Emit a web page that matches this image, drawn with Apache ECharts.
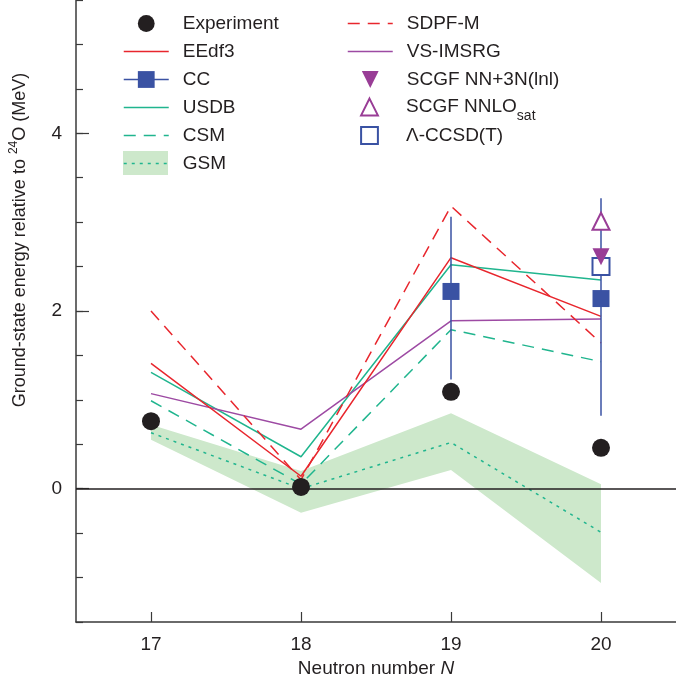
<!DOCTYPE html>
<html><head><meta charset="utf-8">
<script src="https://cdn.jsdelivr.net/npm/echarts@6/dist/echarts.min.js"></script>
<style>html,body{margin:0;padding:0;background:#fff}#c{width:676px;height:680px}</style>
</head><body><div id="c"></div>
<script>
// ---- data ----
const neutronNumbers = ['17', '18', '19', '20'];
const experiment  = [0.76, 0.02, 1.09, 0.46];
const eedf3       = [1.41, 0.14, 2.60, 1.94];
const usdb        = [1.31, 0.36, 2.52, 2.35];
const csm         = [0.99, 0.05, 1.79, 1.43];
const gsm         = [0.63, 0.00, 0.52, -0.49];
const gsmLow      = [0.55, -0.27, 0.21, -1.06];
const gsmHigh     = [0.72, 0.20, 0.85, 0.05];
const sdpfm       = [2.00, 0.10, 3.18, 1.64];
const vsImsrg     = [1.07, 0.67, 1.89, 1.91];
const cc          = [null, null, 2.22, 2.14];
const ccLow       = [null, null, 1.23, 0.82];
const ccHigh      = [null, null, 3.06, 3.27];
const scgfNN3N    = [null, null, null, 2.61];
const scgfNNLOsat = [null, null, null, 3.01];
const lambdaCCSDT = [null, null, null, 2.50];
const yTickLabels = [0, 2, 4];

// ---- styles ----
const FONT = "'Liberation Sans', Arial, sans-serif";
const TXT = '#231f20';
const AX = '#3a3a3a';
const RED = '#e8262d';
const TEAL = '#20b58e';
const PURPLE = '#9d4aa3';
const PURPLE2 = '#993d96';
const BLUE = '#3a52a3';
const BAND = '#cde8cb';

const chart = echarts.init(document.getElementById('c'), null, {renderer: 'canvas'});

function lineSeries(name, data, color, type, extra) {
  return Object.assign({
    name, type: 'line', data, symbol: 'none', color,
    lineStyle: {color, width: 1.5, type: type || 'solid'},
    z: 2, silent: true
  }, extra || {});
}

const errorBars = [];
neutronNumbers.forEach((n, i) => {
  if (ccLow[i] != null) {
    errorBars.push({
      type: 'line', data: [[n, ccLow[i]], [n, ccHigh[i]]], symbol: 'none',
      lineStyle: {color: BLUE, width: 1.5}, color: BLUE, z: 3, silent: true
    });
  }
});

const bandDiff = gsmHigh.map((h, i) => h - gsmLow[i]);

const legendText = {fontSize: 19, color: TXT, fontFamily: FONT, lineHeight: 21, padding: [0, 0, 0, 9]};
function legendBase(left, top) {
  return {left, top, padding: 0, orient: 'vertical', itemWidth: 45, itemHeight: 21, itemGap: 7,
    selectedMode: false, z: 4, textStyle: Object.assign({}, legendText)};
}

const option = {
  animation: false,
  textStyle: {fontFamily: FONT},
  grid: {show: false, left: 76, right: 0, top: 0, bottom: 58, containLabel: false, outerBoundsMode: 'none'},
  xAxis: {
    type: 'category', data: neutronNumbers, boundaryGap: true,
    axisLine: {onZero: false, lineStyle: {color: AX, width: 1.5}},
    axisTick: {show: true, inside: true, length: 10, alignWithLabel: true, lineStyle: {color: AX, width: 1.2}},
    axisLabel: {margin: 13, fontSize: 19, color: TXT, fontFamily: FONT},
    splitLine: {show: false}, splitArea: {show: false},
    name: 'Neutron number {i|N}', nameLocation: 'middle', nameGap: 36,
    nameTextStyle: {fontSize: 19, color: TXT, fontFamily: FONT,
      rich: {i: {fontStyle: 'italic', fontSize: 19, color: TXT, fontFamily: FONT}}}
  },
  yAxis: [{
    type: 'value', min: -1.5, max: 5.5, interval: 0.5, position: 'left',
    axisLine: {show: true, onZero: false, lineStyle: {color: AX, width: 1.5}},
    axisTick: {show: true, inside: true, length: 7, lineStyle: {color: AX, width: 1.2}},
    axisLabel: {margin: 14, fontSize: 19, color: TXT, fontFamily: FONT,
      formatter: v => yTickLabels.some(t => Math.abs(t - v) < 1e-6) ? String(Math.round(v)) : ''},
    splitLine: {show: false}, splitArea: {show: false}
  }, {
    type: 'value', min: -1.5, max: 5.5, interval: 0.5, position: 'left', offset: 0,
    axisLine: {show: false, onZero: false},
    axisTick: {show: true, inside: true, length: 13, customValues: yTickLabels, lineStyle: {color: AX, width: 1.2}},
    axisLabel: {show: false},
    splitLine: {show: false}, splitArea: {show: false}
  }],
  legend: [
    Object.assign(legendBase(123, 13), {
      data: [
        {name: 'Experiment'},
        {name: 'EEdf3', itemStyle: {opacity: 0}, lineStyle: {width: 1.5}},
        {name: 'CC', lineStyle: {width: 1.5}},
        {name: 'USDB', itemStyle: {opacity: 0}, lineStyle: {width: 1.5}},
        {name: 'CSM', itemStyle: {opacity: 0}, lineStyle: {width: 1.5}},
        {name: 'GSM', itemStyle: {opacity: 0}, lineStyle: {width: 1.5}}
      ]
    }),
    Object.assign(legendBase(347, 13), {
      data: [
        {name: 'SDPF-M', itemStyle: {opacity: 0}, lineStyle: {width: 1.5}},
        {name: 'VS-IMSRG', itemStyle: {opacity: 0}, lineStyle: {width: 1.5}},
        {name: 'SCGF NN+3N(lnl)'}
      ]
    }),
    Object.assign(legendBase(347, 91), {
      textStyle: Object.assign({}, legendText, {
        rich: {sub: {fontSize: 14, color: TXT, fontFamily: FONT, lineHeight: 21, padding: [18, 0, 0, 0]}}}),
      formatter: name => name === 'SCGF NNLOsat' ? 'SCGF NNLO{sub|sat}' : name,
      data: [{name: 'SCGF NNLOsat'}]
    }),
    Object.assign(legendBase(347, 125), {
      data: [{name: 'Λ-CCSD(T)'}]
    }),
    {
      left: 123, top: 151, padding: 0, orient: 'vertical', itemWidth: 45, itemHeight: 24,
      selectedMode: false, z: 3, icon: 'rect', symbolKeepAspect: false,
      formatter: () => '',
      data: [{name: 'GSM band', itemStyle: {color: BAND, borderWidth: 0}}]
    }
  ],
  graphic: [{
    type: 'text', x: 20, y: 240, rotation: Math.PI / 2,
    style: {
      text: '{a|Ground-state energy relative to }{s|24}{a|O (MeV)}',
      align: 'center', verticalAlign: 'middle',
      rich: {
        a: {fontSize: 18, fill: TXT, fontFamily: FONT, lineHeight: 22},
        s: {fontSize: 12, fill: TXT, fontFamily: FONT, lineHeight: 22, padding: [0, 0, 12, 0]}
      }
    }
  }],
  series: [
    {name: 'gsmBase', type: 'line', stack: 'gsm', stackStrategy: 'all', data: gsmLow,
      symbol: 'none', lineStyle: {width: 0}, z: 1, silent: true},
    {name: 'GSM band', type: 'line', stack: 'gsm', stackStrategy: 'all', data: bandDiff,
      symbol: 'none', color: BAND, lineStyle: {width: 0}, areaStyle: {color: BAND, opacity: 1}, z: 1, silent: true},
    lineSeries('GSM', gsm, TEAL, [3, 5], {
      markLine: {silent: true, symbol: 'none', label: {show: false},
        lineStyle: {color: TXT, width: 1.5, type: 'solid'}, data: [{yAxis: 0}]}
    }),
    lineSeries('CSM', csm, TEAL, [12, 8]),
    lineSeries('USDB', usdb, TEAL),
    lineSeries('VS-IMSRG', vsImsrg, PURPLE),
    lineSeries('SDPF-M', sdpfm, RED, [12, 8]),
    lineSeries('EEdf3', eedf3, RED),
    ...errorBars,
    {name: 'CC', type: 'line', data: cc, symbol: 'rect', symbolSize: 17, color: BLUE,
      itemStyle: {color: BLUE, borderWidth: 0}, lineStyle: {width: 0, color: BLUE}, z: 4, silent: true},
    {name: 'Λ-CCSD(T)', type: 'line', data: lambdaCCSDT, symbol: 'emptyRect', symbolSize: 17, color: BLUE,
      itemStyle: {color: BLUE, borderColor: BLUE, borderWidth: 1.5}, lineStyle: {width: 0}, z: 4, silent: true},
    {name: 'SCGF NN+3N(lnl)', type: 'line', data: scgfNN3N, symbol: 'triangle', symbolRotate: 180, symbolSize: 17,
      color: PURPLE2, itemStyle: {color: PURPLE2, borderWidth: 0}, lineStyle: {width: 0}, z: 4, silent: true},
    {name: 'SCGF NNLOsat', type: 'line', data: scgfNNLOsat, symbol: 'emptyTriangle', symbolSize: 17,
      color: PURPLE2, itemStyle: {color: PURPLE2, borderColor: PURPLE2, borderWidth: 1.5}, lineStyle: {width: 0}, z: 4, silent: true},
    {name: 'Experiment', type: 'line', data: experiment, symbol: 'circle', symbolSize: 18, color: TXT,
      itemStyle: {color: TXT, borderWidth: 0}, lineStyle: {width: 0}, z: 5, silent: true}
  ]
};
chart.setOption(option);
</script>
</body></html>
